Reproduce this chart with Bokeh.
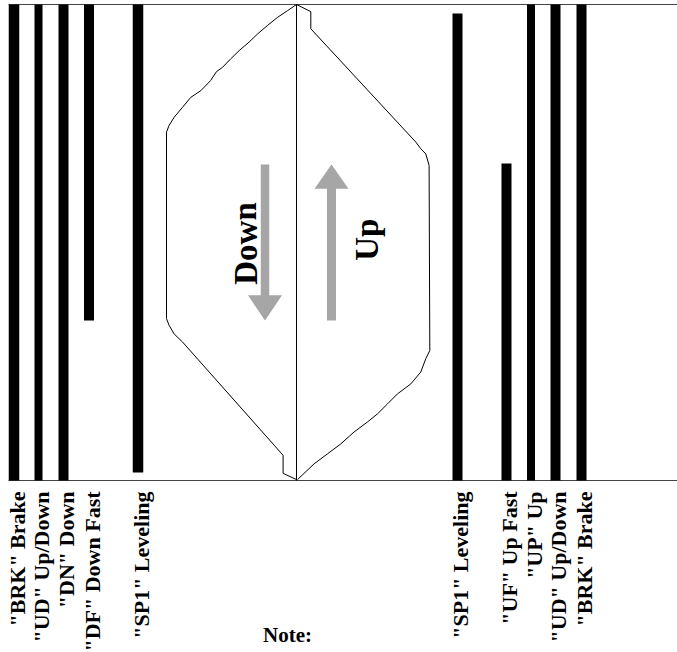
from bokeh.plotting import figure
from bokeh.models import Range1d, ColumnDataSource
from bokeh.embed import file_html
from bokeh.resources import INLINE
from bokeh.core.properties import value

# ---------------- data ----------------
# switch bars (left = down direction, right = up direction)
left_names = ['"BRK" Brake', '"UD" Up/Down', '"DN" Down', '"DF" Down Fast', '"SP1" Leveling']
left_bottom = [0.0, 0.0, 0.0, 33.6, 1.7]     # travel % where contact starts
left_top = [100.0, 100.0, 100.0, 100.0, 100.0]

right_names = ['"SP1" Leveling', '"UF" Up Fast', '"UP" Up', '"UD" Up/Down', '"BRK" Brake']
right_bottom = [0.0, 0.0, 0.0, 0.0, 0.0]
right_top = [98.1, 66.6, 100.0, 100.0, 100.0]

# speed profiles: speed offset from centre line vs travel (%)
down_speed = [0, 9, 19, 29, 39, 47.4, 57.4, 65.7, 74, 80, 86, 95.7, 105.7, 114, 122.4,
              127.4, 130, 130, 127.4, 122.4, 114, 13.4, 13.4, 0]
down_travel = [100, 98.7, 97.3, 95.6, 93.8, 92.1, 90.3, 88.6, 86.8, 85.9, 84.0, 81.9, 80.5, 78.4,
               76.3, 74.6, 73.2, 34.0, 32.6, 30.8, 29.1, 5.3, 1.5, 0.2]

up_speed = [0, 14.3, 14.3, 119.3, 124.3, 129.3, 132.6, 133.3, 129.3, 124.3, 114.3, 101, 91, 81,
            71, 57.6, 44.3, 31, 17.6, 1]
up_travel = [100, 98.5, 94.9, 71.1, 69.7, 68.6, 66.2, 27.3, 25.6, 22.8, 20.3, 18.2, 16.1, 14.0,
             12.3, 10.2, 7.7, 5.6, 3.5, 0.2]

# ---------------- layout / style ----------------
left_x = [13.5, 38, 63, 88.5, 137.5]
left_w = [10.5, 8, 10, 10, 10.5]
right_x = [457, 506, 530.5, 555, 581]
right_w = [10, 10, 8, 10, 10]
center_x = 296
label_dx = 3
label_y = -2.3
SERIF = value("Liberation Serif")
GRAY = "#a6a6a6"

p = figure(width=677, height=652, x_range=Range1d(0, 677), y_range=Range1d(-36.13, 100.84),
           output_backend="svg", toolbar_location=None, min_border=0,
           x_axis_location=None, y_axis_location=None)
p.grid.visible = False
p.outline_line_color = None
p.background_fill_color = "white"
p.border_fill_color = "white"

# frame lines
p.segment(x0=[8, 8], y0=[100, 0], x1=[677, 677], y1=[100, 0], line_color="#444444", line_width=1)

# bars
src_l = ColumnDataSource(dict(x=left_x, w=left_w, b=left_bottom, t=left_top))
src_r = ColumnDataSource(dict(x=right_x, w=right_w, b=right_bottom, t=right_top))
p.vbar(x="x", width="w", bottom="b", top="t", source=src_l, fill_color="black", line_color=None)
p.vbar(x="x", width="w", bottom="b", top="t", source=src_r, fill_color="black", line_color=None)

# centre line
p.segment(x0=[center_x], y0=[0], x1=[center_x], y1=[100], line_color="black", line_width=1)

# profiles
p.line(x=[center_x - s for s in down_speed], y=down_travel, line_color="black", line_width=1)
p.line(x=[center_x + s for s in up_speed], y=up_travel, line_color="black", line_width=1)

# arrows
def arrow(x, tail, tip, sw, hw, hl):
    d = 1 if tip > tail else -1
    base = tip - d * hl
    xs = [x - sw / 2, x + sw / 2, x + sw / 2, x + hw / 2, x, x - hw / 2, x - sw / 2]
    ys = [tail, tail, base, base, tip, base, base]
    return xs, ys

dx, dy = arrow(264.5, 66.4, 33.6, 8.5, 34, 5.3)
ux, uy = arrow(331, 33.6, 66.4, 9, 34, 5.1)
p.patches(xs=[dx, ux], ys=[dy, uy], fill_color=GRAY, line_color=None)

# direction words
p.text(x=[245, 366], y=[49.8, 50.6], text=["Down", "Up"], angle=1.5708,
       text_align="center", text_baseline="middle", text_font=SERIF,
       text_font_style="bold", text_font_size="33px", text_color="black")

# switch labels
p.text(x=[x + label_dx for x in left_x + right_x], y=[label_y] * 10, text=left_names + right_names,
       angle=1.5708, text_align="right", text_baseline="middle", text_font=SERIF,
       text_font_style="bold", text_font_size="22px", text_color="black")

p.text(x=[287], y=[-32.4], text=["Note:"], text_align="center", text_baseline="middle",
       text_font=SERIF, text_font_style="bold", text_font_size="21px", text_color="black")

open("out.html", "w").write(file_html(p, INLINE))
